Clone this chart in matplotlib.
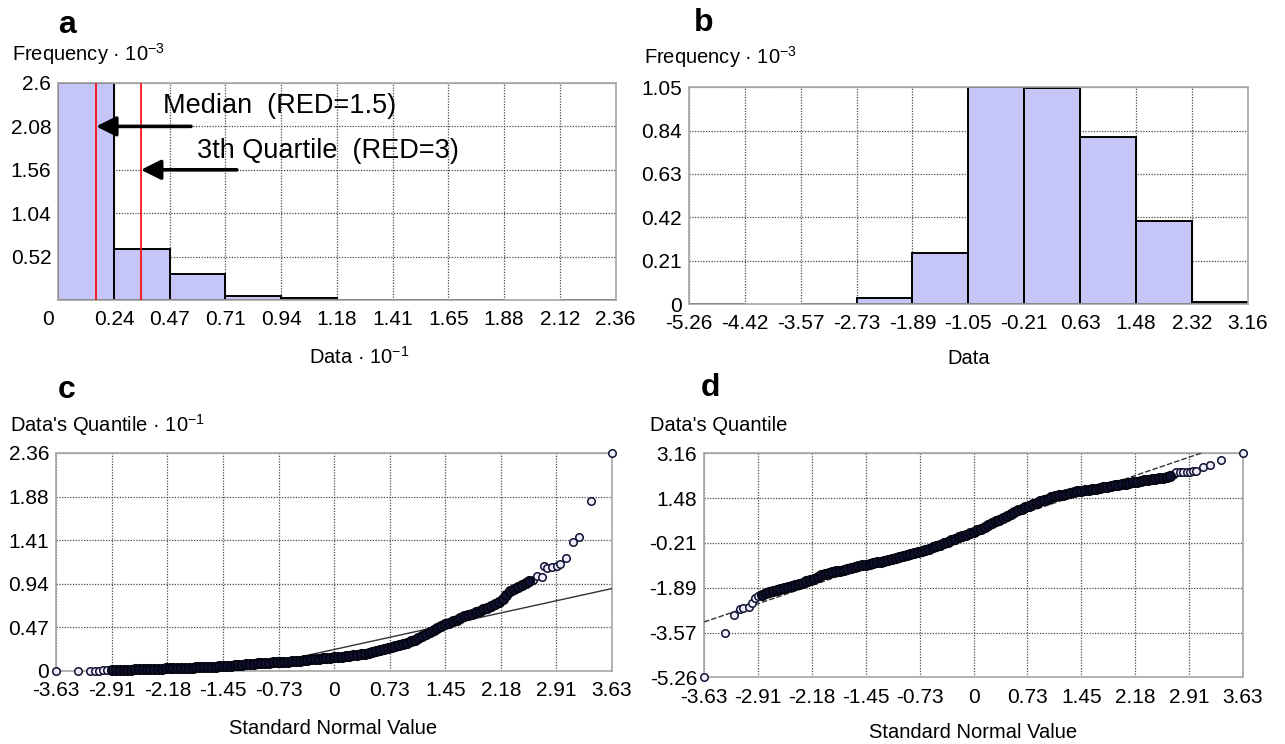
import numpy as np
import matplotlib
matplotlib.use('Agg')
import matplotlib.pyplot as plt
import matplotlib.transforms as mtransforms

plt.rcParams['font.family'] = 'Liberation Sans'
plt.rcParams['mathtext.fontset'] = 'custom'
plt.rcParams['mathtext.rm'] = 'Liberation Sans'
plt.rcParams['mathtext.it'] = 'Liberation Sans'

TICK_SIZE = 15

# ---- panel a: histogram of RED (x10^-1) ----
a_range = (0.0, 2.36)
a_heights = [2.6, 0.61, 0.31, 0.052, 0.028, 0.002, 0.002, 0.002, 0.0, 0.002]
a_xlabels = ['0', '0.24', '0.47', '0.71', '0.94', '1.18', '1.41', '1.65', '1.88', '2.12', '2.36']
a_ylabels = ['', '0.52', '1.04', '1.56', '2.08', '2.6']
a_median = 0.16
a_q3 = 0.35

# ---- panel b: histogram of transformed data ----
b_range = (-5.26, 3.16)
b_heights = [0.002, 0.0, 0.002, 0.027, 0.245, 1.05, 1.045, 0.81, 0.40, 0.012]
b_xlabels = ['-5.26', '-4.42', '-3.57', '-2.73', '-1.89', '-1.05', '-0.21', '0.63', '1.48', '2.32', '3.16']
b_ylabels = ['0', '0.21', '0.42', '0.63', '0.84', '1.05']

# ---- panel c: QQ plot of RED (x10^-1) ----
qq_xlabels = ['-3.63', '-2.91', '-2.18', '-1.45', '-0.73', '0', '0.73', '1.45', '2.18', '2.91', '3.63']
c_ylabels = ['0', '0.47', '0.94', '1.41', '1.88', '2.36']
c_qq_x = [-3.63, -3.34, -3.19, -3.13, -3.07, -3.02, -2.97,
          -2.90, -2.85, -2.80, -2.75, -2.70, -2.65, -2.60, -2.55, -2.50, -2.45,
          -2.40, -2.35, -2.30, -2.25, -2.20, -2.15, -2.10, -2.05, -2.00, -1.95,
          -1.90, -1.85, -1.80, -1.75, -1.70, -1.65, -1.60, -1.55, -1.50, -1.45,
          -1.40, -1.35, -1.30, -1.25, -1.20, -1.15, -1.10, -1.05, -1.00, -0.95,
          -0.90, -0.85, -0.80, -0.75, -0.70, -0.65, -0.60, -0.55, -0.50, -0.45,
          -0.40, -0.35, -0.30, -0.25, -0.20, -0.15, -0.10, -0.05, 0.00, 0.05,
          0.10, 0.15, 0.20, 0.25, 0.30, 0.35, 0.40, 0.45, 0.50, 0.55,
          0.60, 0.65, 0.70, 0.75, 0.80, 0.85, 0.90, 0.95, 1.00, 1.05,
          1.10, 1.15, 1.20, 1.25, 1.30, 1.35, 1.40, 1.45, 1.50, 1.55,
          1.60, 1.65, 1.70, 1.75, 1.80, 1.85, 1.90, 1.95, 2.00, 2.05,
          2.10, 2.15, 2.20, 2.25, 2.30, 2.35, 2.40, 2.45, 2.50, 2.55,
          2.60, 2.65, 2.71, 2.74, 2.78, 2.84, 2.91, 2.95, 3.03, 3.115, 3.20, 3.355, 3.63]
c_qq_y = [0.0, 0.0, 0.0, 0.0, 0.002, 0.003, 0.005,
          0.010, 0.010, 0.011, 0.011, 0.012, 0.013, 0.015, 0.016, 0.017, 0.018,
          0.020, 0.021, 0.022, 0.023, 0.025, 0.026, 0.027, 0.028, 0.030, 0.031,
          0.032, 0.033, 0.035, 0.036, 0.038, 0.041, 0.043, 0.045, 0.047, 0.050,
          0.053, 0.056, 0.059, 0.062, 0.065, 0.069, 0.072, 0.076, 0.080, 0.082,
          0.085, 0.087, 0.090, 0.092, 0.094, 0.096, 0.098, 0.101, 0.105, 0.110,
          0.115, 0.119, 0.123, 0.128, 0.132, 0.135, 0.139, 0.142, 0.145, 0.149,
          0.153, 0.157, 0.161, 0.166, 0.172, 0.178, 0.183, 0.192, 0.201, 0.210,
          0.220, 0.231, 0.242, 0.254, 0.266, 0.279, 0.292, 0.305, 0.318, 0.333,
          0.352, 0.373, 0.395, 0.420, 0.440, 0.462, 0.485, 0.505, 0.520, 0.537,
          0.553, 0.570, 0.588, 0.603, 0.618, 0.633, 0.648, 0.665, 0.683, 0.700,
          0.718, 0.742, 0.780, 0.820, 0.860, 0.888, 0.910, 0.930, 0.950, 0.975,
          0.985, 1.03, 1.02, 1.13, 1.11, 1.12, 1.135, 1.16, 1.22, 1.40, 1.45, 1.84, 2.36]
c_band = (7, 117)        # index range of the dense middle part
c_fit = (0.23, 0.182)    # intercept, slope of reference line

# ---- panel d: QQ plot of transformed data ----
d_ylabels = ['-5.26', '-3.57', '-1.89', '-0.21', '1.48', '3.16']
d_qq_x = [-3.63, -3.35, -3.22, -3.14, -3.10, -3.03, -2.99, -2.94, -2.90,
          -2.85, -2.80, -2.75, -2.70, -2.65, -2.60, -2.55, -2.50, -2.45, -2.40,
          -2.35, -2.30, -2.25, -2.20, -2.15, -2.10, -2.05, -2.00, -1.95, -1.90,
          -1.85, -1.80, -1.75, -1.70, -1.65, -1.60, -1.55, -1.50, -1.45, -1.40,
          -1.35, -1.30, -1.25, -1.20, -1.15, -1.10, -1.05, -1.00, -0.95, -0.90,
          -0.85, -0.80, -0.75, -0.70, -0.65, -0.60, -0.55, -0.50, -0.45, -0.40,
          -0.35, -0.30, -0.25, -0.20, -0.15, -0.10, -0.05, 0.00, 0.05, 0.10,
          0.15, 0.20, 0.25, 0.30, 0.35, 0.40, 0.45, 0.50, 0.55, 0.60,
          0.65, 0.70, 0.75, 0.80, 0.85, 0.90, 0.95, 1.00, 1.05, 1.10,
          1.15, 1.20, 1.25, 1.30, 1.35, 1.40, 1.45, 1.50, 1.55, 1.60,
          1.65, 1.70, 1.75, 1.80, 1.85, 1.90, 1.95, 2.00, 2.05, 2.10,
          2.15, 2.20, 2.25, 2.30, 2.35, 2.40, 2.45, 2.50, 2.55, 2.60, 2.65,
          2.70, 2.73, 2.78, 2.82, 2.87, 2.91, 2.96, 3.00, 3.09, 3.19, 3.34, 3.63]
d_qq_y = [-5.26, -3.58, -2.92, -2.70, -2.67, -2.60, -2.48, -2.29, -2.20,
          -2.15, -2.10, -2.06, -2.02, -1.98, -1.94, -1.90, -1.86, -1.82, -1.78,
          -1.74, -1.70, -1.65, -1.60, -1.55, -1.49, -1.43, -1.38, -1.35, -1.31,
          -1.28, -1.25, -1.21, -1.18, -1.14, -1.11, -1.08, -1.05, -1.03, -1.00,
          -0.97, -0.94, -0.91, -0.88, -0.85, -0.82, -0.78, -0.74, -0.70, -0.66,
          -0.62, -0.58, -0.55, -0.51, -0.47, -0.43, -0.38, -0.33, -0.28, -0.22,
          -0.16, -0.11, -0.05, 0.00, 0.05, 0.10, 0.15, 0.20, 0.26, 0.33,
          0.40, 0.47, 0.53, 0.60, 0.66, 0.73, 0.80, 0.87, 0.94, 1.01,
          1.07, 1.13, 1.19, 1.25, 1.31, 1.36, 1.41, 1.46, 1.50, 1.54,
          1.58, 1.61, 1.64, 1.67, 1.70, 1.73, 1.75, 1.77, 1.79, 1.81,
          1.83, 1.85, 1.88, 1.90, 1.92, 1.95, 1.98, 2.00, 2.02, 2.05,
          2.07, 2.09, 2.11, 2.14, 2.16, 2.18, 2.21, 2.23, 2.25, 2.27, 2.29,
          2.40, 2.45, 2.45, 2.45, 2.45, 2.45, 2.48, 2.51, 2.66, 2.72, 2.91, 3.16]
d_band = (9, 120)
d_fit = (0.26, 0.948)

W, H = 1285, 744
fig = plt.figure(figsize=(W / 100, H / 100), dpi=100)
fig.patch.set_facecolor('white')


def add_ax(l, r, t, b):
    return fig.add_axes([l / W, 1 - b / H, (r - l) / W, (b - t) / H])


def style(ax, xlim, ylim, xlabels, ylabels):
    ax.set_xlim(xlim)
    ax.set_ylim(ylim)
    ax.set_xticks(np.linspace(xlim[0], xlim[1], len(xlabels)))
    ax.set_xticklabels(xlabels)
    ax.set_yticks(np.linspace(ylim[0], ylim[1], len(ylabels)))
    ax.set_yticklabels(ylabels)
    ax.tick_params(length=0, labelsize=TICK_SIZE)
    ax.tick_params(axis='x', pad=7.5)
    ax.tick_params(axis='y', pad=5)
    ax.grid(True, color='#4a4a4a', linestyle=(0, (1, 1.2)), linewidth=0.9)
    ax.set_axisbelow(True)
    for s in ax.spines.values():
        s.set_color('#a6a6a6')
        s.set_linewidth(1.2)


def hist(ax, rng, heights):
    edges = np.linspace(rng[0], rng[1], len(heights) + 1)
    for i, h in enumerate(heights):
        if h <= 0:
            continue
        ax.bar(edges[i], h, width=edges[i + 1] - edges[i], align='edge',
               color='#c5c5f8', edgecolor='black', linewidth=1.4, zorder=2)


def qq(ax, xs, ys, band, fit, xlim, ls):
    xx = np.array(xlim)
    ax.plot(xx, fit[0] + fit[1] * xx, color='#333333', lw=1.0, linestyle=ls, zorder=3)
    i0, i1 = band
    # sparse tails: open circles
    for sl in (slice(0, i0), slice(i1, None)):
        ax.plot(xs[sl], ys[sl], linestyle='none', marker='o', markersize=5.4,
                markerfacecolor='#eeeeff', markeredgecolor='#101030',
                markeredgewidth=1.1, zorder=4, clip_on=False)
    # dense middle: thousands of overlapping circles read as a solid band
    ax.plot(xs[i0:i1], ys[i0:i1], linestyle='none', marker='o', markersize=6.8,
            markerfacecolor='#101030', markeredgecolor='#050510',
            markeredgewidth=1.2, zorder=4, clip_on=False)


# panel a
ax_a = add_ax(58.3, 615.5, 83, 300)
hist(ax_a, a_range, a_heights)
style(ax_a, a_range, (0, 2.6), a_xlabels, a_ylabels)
ax_a.axvline(a_median, color='red', lw=1.2, zorder=3)
ax_a.axvline(a_q3, color='red', lw=1.2, zorder=3)
arrow = dict(arrowstyle='-|>,head_length=0.6,head_width=0.3', lw=2.6,
             color='black', mutation_scale=20, shrinkA=0, shrinkB=0)
ax_a.annotate('', xy=(a_median, 2.08), xytext=(0.562, 2.08), arrowprops=arrow, zorder=5)
ax_a.annotate('', xy=(a_q3, 1.56), xytext=(0.756, 1.56), arrowprops=arrow, zorder=5)
ax_a.text(0.444, 2.32, 'Median  (RED=1.5)', fontsize=19.5, va='center', ha='left', zorder=5)
ax_a.text(0.588, 1.78, '3th Quartile  (RED=3)', fontsize=19.5, va='center', ha='left', zorder=5)
lbl0 = ax_a.get_xticklabels()[0]
lbl0.set_transform(lbl0.get_transform() + mtransforms.ScaledTranslation(-10 / 100, 0, fig.dpi_scale_trans))

# panel b
ax_b = add_ax(689, 1247.7, 87.3, 304)
hist(ax_b, b_range, b_heights)
style(ax_b, b_range, (0, 1.05), b_xlabels, b_ylabels)

# panel c
ax_c = add_ax(56.3, 612, 453, 670.7)
style(ax_c, (-3.63, 3.63), (0, 2.36), qq_xlabels, c_ylabels)
qq(ax_c, c_qq_x, c_qq_y, c_band, c_fit, (-3.63, 3.63), '-')

# panel d
ax_d = add_ax(704, 1243, 453.3, 677.3)
style(ax_d, (-3.63, 3.63), (-5.26, 3.16), qq_xlabels, d_ylabels)
qq(ax_d, d_qq_x, d_qq_y, d_band, d_fit, (-3.63, 3.63), (0, (4, 1.5)))


# panel letters and axis titles (MATLAB-style, placed in figure pixels)
def ftext(x, y, s, **kw):
    fig.text(x / W, 1 - y / H, s, **kw)


for x, y, s in [(67, 25, 'a'), (704, 23, 'b'), (67, 390, 'c'), (710, 388, 'd')]:
    ftext(x, y, s, fontsize=23, fontweight='bold', ha='center', va='center')

ftext(12, 54, 'Frequency · 10$^{-3}$', fontsize=14.5, ha='left', va='center')
ftext(644, 57, 'Frequency · 10$^{-3}$', fontsize=14.5, ha='left', va='center')
ftext(10, 425, "Data's Quantile · 10$^{-1}$", fontsize=14.5, ha='left', va='center')
ftext(650, 425, "Data's Quantile", fontsize=14.5, ha='left', va='center')
ftext(359, 357, 'Data · 10$^{-1}$', fontsize=14.5, ha='center', va='center')
ftext(969, 359, 'Data', fontsize=14.5, ha='center', va='center')
ftext(333, 728, 'Standard Normal Value', fontsize=14.5, ha='center', va='center')
ftext(973, 732, 'Standard Normal Value', fontsize=14.5, ha='center', va='center')

fig.savefig('out.png', dpi=100, facecolor='white')
